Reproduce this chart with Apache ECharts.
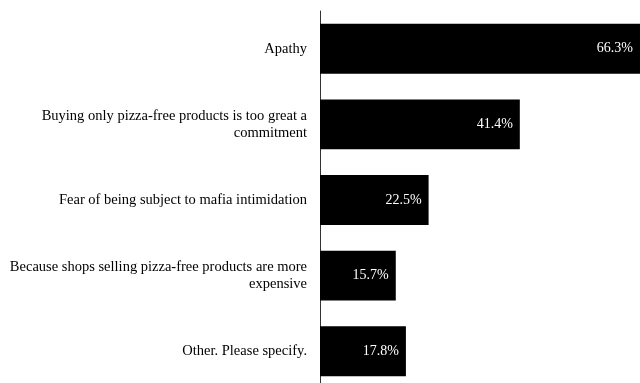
<!DOCTYPE html>
<html>
<head>
<meta charset="utf-8">
<script src="https://cdn.jsdelivr.net/npm/echarts@6/dist/echarts.min.js"></script>
<style>
  html, body { margin: 0; padding: 0; background: #fff; }
  #main { width: 640px; height: 383px; }
</style>
</head>
<body>
<div id="main"></div>
<script>
const categories = [
    'Apathy',
    'Buying only pizza-free products is too great a\ncommitment',
    'Fear of being subject to mafia intimidation',
    'Because shops selling pizza-free products are more\nexpensive',
    'Other. Please specify.'
];
const values = [66.3, 41.4, 22.5, 15.7, 17.8];

const chart = echarts.init(document.getElementById('main'));

const option = {
    backgroundColor: '#fff',
    animation: false,
    grid: { left: 320, right: 0, top: 11, height: 378, containLabel: false, outerBoundsMode: 'none' },
    xAxis: {
        type: 'value',
        min: 0,
        max: 66.3,
        show: false
    },
    yAxis: {
        type: 'category',
        inverse: true,
        data: categories,
        axisLine: { show: true, lineStyle: { color: '#333', width: 1 } },
        axisTick: { show: false },
        axisLabel: {
            margin: 13,
            color: '#000',
            fontFamily: 'Liberation Serif',
            fontSize: 14.5,
            lineHeight: 17,
            align: 'right'
        }
    },
    series: [{
        type: 'bar',
        data: values,
        barCategoryGap: '34%',
        itemStyle: { color: '#000' },
        label: {
            show: true,
            position: 'insideRight',
            distance: 7,
            color: '#fff',
            fontFamily: 'Liberation Serif',
            fontSize: 14,
            formatter: function (p) { return p.value.toFixed(1) + '%'; }
        }
    }]
};

chart.setOption(option);
</script>
</body>
</html>
